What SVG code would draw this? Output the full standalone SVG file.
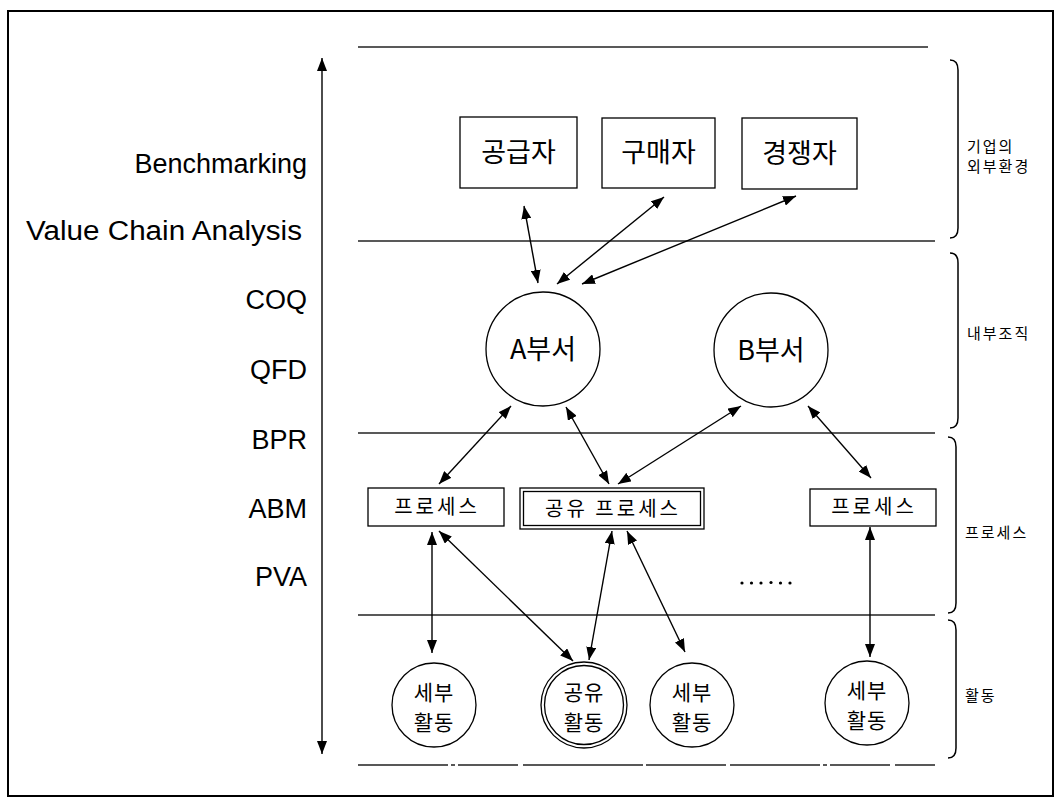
<svg xmlns="http://www.w3.org/2000/svg" width="1055" height="799" viewBox="0 0 1055 799">
  <style>
    .frame { fill: none; stroke: #000; stroke-width: 2; }
    .band { fill: none; stroke: #222; stroke-width: 1.3; }
    .band-dash { fill: none; stroke: #222; stroke-width: 1.3; stroke-dasharray: 90 3 4 3 60 5 120 3 80 4; }
    .box { fill: #fff; stroke: #000; stroke-width: 1.3; }
    .node { fill: #fff; stroke: #000; stroke-width: 1.3; }
    .brace { fill: none; stroke: #000; stroke-width: 1.5; }
    .link { fill: none; stroke: #000; stroke-width: 1.4; marker-start: url(#head); marker-end: url(#head); }
    .method { font-family: "Liberation Sans", Arial, sans-serif; font-size: 27px; fill: #000; text-anchor: end; }
    .ko { font-family: "Noto Sans CJK KR", "Liberation Sans", sans-serif; fill: #000; text-anchor: middle; }
    .big { font-size: 27px; }
    .mid { font-size: 20px; letter-spacing: 3px; }
    .small { font-size: 21px; letter-spacing: 1px; }
    .side { font-family: "Noto Sans CJK KR", "Liberation Sans", sans-serif; font-size: 15px; letter-spacing: 2px; fill: #000; }
  </style>
  <defs>
    <marker id="head" viewBox="0 0 13 10" refX="13" refY="5" markerWidth="13" markerHeight="10" markerUnits="userSpaceOnUse" orient="auto-start-reverse">
      <path d="M0,0 L13,5 L0,10 z" fill="#000"/>
    </marker>
  </defs>

  <rect width="1055" height="799" fill="#fff"/>
  <rect class="frame" x="8" y="11" width="1045" height="785"/>

  <!-- layer separators -->
  <g id="bands">
    <line class="band" x1="358" y1="47" x2="928" y2="47"/>
    <line class="band" x1="358" y1="241" x2="935" y2="241"/>
    <line class="band" x1="358" y1="433" x2="935" y2="433"/>
    <line class="band" x1="358" y1="615" x2="935" y2="615"/>
    <line class="band-dash" x1="358" y1="765" x2="935" y2="765"/>
  </g>

  <!-- method scale on the left -->
  <g id="methods">
    <line x1="322" y1="58" x2="322" y2="754" stroke="#000" stroke-width="1.4" marker-start="url(#head)" marker-end="url(#head)"/>
    <text class="method" x="307" y="173">Benchmarking</text>
    <text class="method" x="302" y="240" textLength="276" lengthAdjust="spacingAndGlyphs">Value Chain Analysis</text>
    <text class="method" x="307" y="309">COQ</text>
    <text class="method" x="307" y="379">QFD</text>
    <text class="method" x="307" y="449">BPR</text>
    <text class="method" x="307" y="518">ABM</text>
    <text class="method" x="307" y="586">PVA</text>
  </g>

  <!-- braces and layer names on the right -->
  <g id="layers">
    <path class="brace" d="M950,60 Q958,60 958,70 L958,228 Q958,238 950,238"/>
    <path class="brace" d="M950,253 Q958,253 958,263 L958,418 Q958,428 950,428"/>
    <path class="brace" d="M948,437 Q956,437 956,447 L956,603 Q956,613 948,613"/>
    <path class="brace" d="M948,620 Q956,620 956,630 L956,748 Q956,758 948,758"/>
    <text class="side" x="967" y="152">기업의</text>
    <text class="side" x="967" y="172">외부환경</text>
    <text class="side" x="967" y="339">내부조직</text>
    <text class="side" x="965" y="538">프로세스</text>
    <text class="side" x="965" y="701">활동</text>
  </g>

  <!-- external environment -->
  <g id="supplier">
    <rect class="box" x="460" y="117" width="117" height="71"/>
    <text class="ko big" x="518.5" y="162">공급자</text>
  </g>
  <g id="buyer">
    <rect class="box" x="602" y="118" width="113" height="70"/>
    <text class="ko big" x="658.5" y="162">구매자</text>
  </g>
  <g id="competitor">
    <rect class="box" x="742" y="118" width="115" height="71"/>
    <text class="ko big" x="799.5" y="163">경쟁자</text>
  </g>

  <!-- internal organisation -->
  <g id="deptA">
    <circle class="node" cx="543" cy="349" r="57"/>
    <text class="ko big" x="543" y="359">A부서</text>
  </g>
  <g id="deptB">
    <circle class="node" cx="771" cy="350" r="57"/>
    <text class="ko big" x="771" y="360">B부서</text>
  </g>

  <!-- processes -->
  <g id="processA">
    <rect class="box" x="368" y="488" width="136" height="38"/>
    <text class="ko mid" x="437" y="514">프로세스</text>
  </g>
  <g id="sharedProcess">
    <rect class="box" x="520" y="488" width="184" height="41"/>
    <rect class="box" x="523.5" y="491.5" width="177" height="34"/>
    <text class="ko mid" x="613" y="516">공유 프로세스</text>
  </g>
  <g id="processB">
    <rect class="box" x="810" y="489" width="126" height="37"/>
    <text class="ko mid" x="874" y="514">프로세스</text>
  </g>
  <g id="more">
    <g fill="#000">
      <circle cx="742" cy="583" r="1.6"/>
      <circle cx="751.5" cy="583" r="1.6"/>
      <circle cx="761" cy="583" r="1.6"/>
      <circle cx="771" cy="582.5" r="1.6"/>
      <circle cx="780.5" cy="583" r="1.6"/>
      <circle cx="790" cy="583" r="1.6"/>
    </g>
  </g>

  <!-- activities -->
  <g id="activity1">
    <circle class="node" cx="434" cy="705" r="42"/>
    <text class="ko small" x="434" y="700">세부</text>
    <text class="ko small" x="434" y="730">활동</text>
  </g>
  <g id="sharedActivity">
    <circle class="node" cx="584" cy="705" r="43" stroke-width="1.8"/>
    <circle class="node" cx="584" cy="705" r="39.5" stroke-width="1.3"/>
    <text class="ko small" x="584" y="700">공유</text>
    <text class="ko small" x="584" y="730">활동</text>
  </g>
  <g id="activity2">
    <circle class="node" cx="692" cy="705" r="42"/>
    <text class="ko small" x="692" y="700">세부</text>
    <text class="ko small" x="692" y="730">활동</text>
  </g>
  <g id="activity3">
    <circle class="node" cx="867" cy="703" r="42"/>
    <text class="ko small" x="867" y="698">세부</text>
    <text class="ko small" x="867" y="728">활동</text>
  </g>

  <!-- connectors -->
  <g id="connectors">
    <line class="link" x1="524" y1="206" x2="538" y2="283"/>
    <line class="link" x1="664" y1="197" x2="557" y2="284"/>
    <line class="link" x1="796" y1="196" x2="582" y2="284"/>
    <line class="link" x1="511" y1="406" x2="439" y2="484"/>
    <line class="link" x1="566" y1="407" x2="609" y2="484"/>
    <line class="link" x1="741" y1="406" x2="618" y2="484"/>
    <line class="link" x1="808" y1="406" x2="871" y2="478"/>
    <line class="link" x1="432" y1="532" x2="432" y2="653"/>
    <line class="link" x1="439" y1="531" x2="573" y2="661"/>
    <line class="link" x1="612" y1="531" x2="589" y2="660"/>
    <line class="link" x1="627" y1="531" x2="685" y2="652"/>
    <line class="link" x1="870" y1="527" x2="870" y2="657"/>
  </g>
</svg>
